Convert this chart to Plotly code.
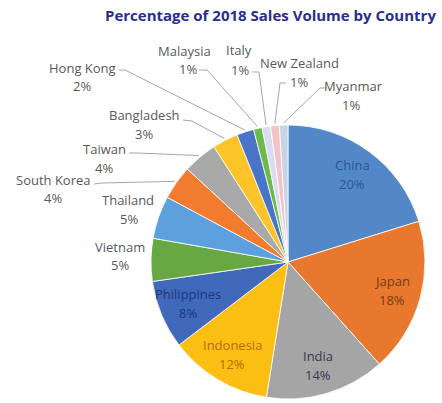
import math
import plotly.graph_objects as go

# Sales volume share by country (percent), in slice order clockwise from 12 o'clock
countries = ["China", "Japan", "India", "Indonesia", "Philippines", "Vietnam",
             "Thailand", "South Korea", "Taiwan", "Bangladesh", "Hong Kong",
             "Malaysia", "Italy", "New Zealand", "Myanmar"]
share_pct = [20, 18, 14, 12, 8, 5, 5, 4, 4, 3, 2, 1, 1, 1, 1]

slice_colors = ["#5388C8", "#E9782F", "#A5A5A5", "#FBBE12", "#4069BC", "#68A843",
                "#5DA0DE", "#F27C2E", "#A9A9A9", "#FDC42A", "#4A74C8", "#6DB94A",
                "#D8DDF2", "#F2C4C8", "#C9D3E6"]

TITLE = "Percentage of 2018 Sales Volume by Country"

W, H = 442, 403
CX, CY, R = 288, 262, 137          # pie centre and radius in pixels

def paper(px, py):
    return px / W, 1 - py / H

# label styling for slices labelled inside the pie
inside_text_color = {"China": "#2F5597", "Japan": "#7A3A10", "India": "#3A3A48",
                     "Indonesia": "#B07000", "Philippines": "#1F3A78"}

# outside label placement: name line, percent line, leader start + elbow
outside = {
    "Malaysia":    dict(name=(184, 51), pct=(188, 69), lead=[(199, 70), (207, 70)]),
    "Italy":       dict(name=(239, 50), pct=(240, 70), lead=[(252, 72), (259, 72)]),
    "New Zealand": dict(name=(299, 63), pct=(299, 82), lead=[(286, 83), (280, 83)]),
    "Myanmar":     dict(name=(353, 86), pct=(351, 105), lead=[(327, 88), (320, 88)]),
    "Hong Kong":   dict(name=(82, 68), pct=(82, 86), lead=[(119, 70), (125, 70)]),
    "Bangladesh":  dict(name=(144, 115), pct=(144, 134), lead=[(183, 120), (192, 121)]),
    "Taiwan":      dict(name=(104, 149), pct=(104, 168), lead=[(129, 153), (137, 153)]),
    "South Korea": dict(name=(53, 180), pct=(53, 198), lead=[(94, 184), (102, 183)]),
    "Thailand":    dict(name=(128, 200), pct=(129, 219), lead=None),
    "Vietnam":     dict(name=(120, 247), pct=(120, 265), lead=None),
}

total = sum(share_pct)
mid_angle = {}
cum = 0
for c, v in zip(countries, share_pct):
    mid_angle[c] = math.radians((cum + v / 2) / total * 360)
    cum += v

def polar(c, rr):
    a = mid_angle[c]
    return CX + rr * math.sin(a), CY - rr * math.cos(a)

fig = go.Figure(go.Pie(
    labels=countries,
    values=share_pct,
    sort=False,
    direction="clockwise",
    rotation=0,
    textinfo="none",
    hoverinfo="label+percent",
    marker=dict(colors=slice_colors, line=dict(color="white", width=0.8)),
    domain=dict(x=[(CX - R) / W, (CX + R) / W],
                y=[1 - (CY + R) / H, 1 - (CY - R) / H]),
    showlegend=False,
))

FONT = "Open Sans"
LABEL_SIZE = 13
annotations = []
shapes = []

for c, v in zip(countries, share_pct):
    if c in inside_text_color:
        px, py = polar(c, 0.79 * R)
        for txt, dy in ((c, -9.5), (f"{v}%", 9.5)):
            x, y = paper(px, py + dy)
            annotations.append(dict(
                x=x, y=y, xref="paper", yref="paper", text=txt, showarrow=False,
                xanchor="center", yanchor="middle",
                font=dict(family=FONT, size=LABEL_SIZE, color=inside_text_color[c])))
    else:
        spec = outside[c]
        for txt, pos in ((c, spec["name"]), (f"{v}%", spec["pct"])):
            x, y = paper(*pos)
            annotations.append(dict(
                x=x, y=y, xref="paper", yref="paper", text=txt, showarrow=False,
                xanchor="center", yanchor="middle",
                font=dict(family=FONT, size=LABEL_SIZE, color="#595959")))
        if spec["lead"]:
            pts = spec["lead"] + [polar(c, R + 2)]
            path = "M " + " L ".join(f"{paper(*p)[0]:.5f},{paper(*p)[1]:.5f}" for p in pts)
            shapes.append(dict(type="path", xref="paper", yref="paper", path=path,
                               line=dict(color="#A6A6A6", width=1)))

tx, ty = paper(270, 15)
annotations.append(dict(
    x=tx, y=ty, xref="paper", yref="paper", text=f"<b>{TITLE}</b>", showarrow=False,
    xanchor="center", yanchor="middle",
    font=dict(family=FONT, size=15, color="#2A2E8C")))

fig.update_layout(
    width=W, height=H,
    margin=dict(l=0, r=0, t=0, b=0),
    paper_bgcolor="white",
    plot_bgcolor="white",
    annotations=annotations,
    shapes=shapes,
)

fig.write_html("out.html")
